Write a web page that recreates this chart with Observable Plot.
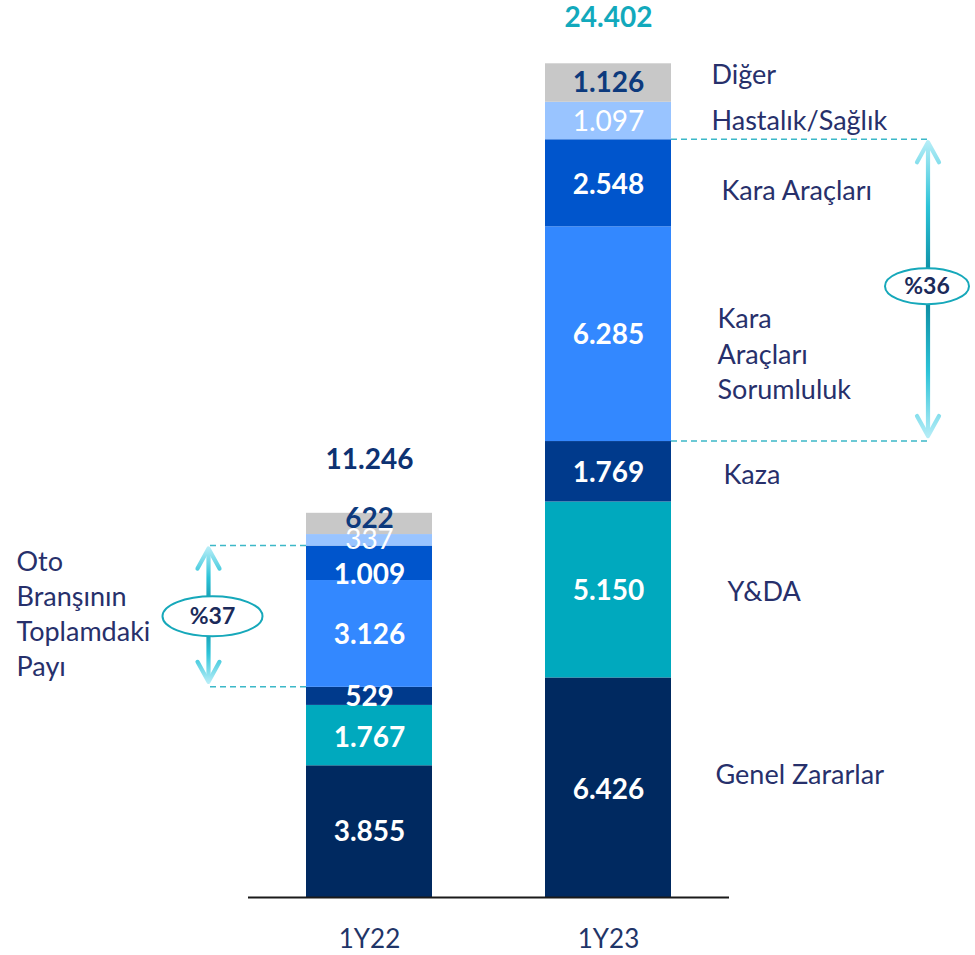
<!DOCTYPE html>
<html>
<head>
<meta charset="utf-8">
<script src="https://cdn.jsdelivr.net/npm/d3@7"></script>
<script src="https://cdn.jsdelivr.net/npm/@observablehq/plot@0.6"></script>
<style>
  html, body { margin: 0; padding: 0; background: #fff; }
  svg { display: block; }
</style>
</head>
<body>
<div id="chart"></div>
<script>
// ---------- data ----------
const years = ["1Y22", "1Y23"];
const branches = ["Genel Zararlar", "Y&DA", "Kaza", "Kara Araçları Sorumluluk", "Kara Araçları", "Hastalık/Sağlık", "Diğer"];
const branchLabels = ["Genel Zararlar", "Y&DA", "Kaza", "Kara\nAraçları\nSorumluluk", "Kara Araçları", "Hastalık/Sağlık", "Diğer"];
const values1Y22 = [3855, 1767, 529, 3126, 1009, 337, 622];
const values1Y23 = [6426, 5150, 1769, 6285, 2548, 1097, 1126];
const totals = [11246, 24402];
const autoShares = ["%37", "%36"];
const shareLabel = "Oto\nBranşının\nToplamdaki\nPayı";
const colors = ["#002960", "#00A9BE", "#003A8C", "#3388FF", "#0055CC", "#99C4FF", "#C8C8C8"];

// ---------- derived table ----------
const fmt = d3.formatLocale({decimal: ",", thousands: ".", grouping: [3], currency: ["", ""]}).format(",");
const seriesByYear = {"1Y22": values1Y22, "1Y23": values1Y23};
const rows = [];
for (const year of years) {
  let acc = 0;
  seriesByYear[year].forEach((v, i) => {
    rows.push({year, branch: branches[i], label: branchLabels[i], value: v, y1: acc, y2: acc + v, i});
    acc += v;
  });
}
const stackTop = year => d3.sum(seriesByYear[year]);

// styling / small label nudges (pixels)
const NAVY_TXT = "#27306B";
const FONT = "Lato, 'Open Sans', sans-serif";
const valueNudge = {"1Y22": [0, 2, 1, 1, 12, 0, -5], "1Y23": [2, 1, 1, 1, 2, 1, 0]};
const catDx = [44, 56, 52, 46, 50, 40, 40];
const catDy = [-15, 0, 1, 18, 5, -2, -10];
const totalDy = [-53, -46];
const totalFill = ["#0D3272", "#12A9BC"];

const valueMarks = rows.map(r => Plot.text([r], {
  x: "year",
  y: d => (d.y1 + d.y2) / 2,
  text: d => fmt(d.value),
  dy: valueNudge[r.year][r.i],
  fill: r.i === 6 ? "#0D3A7D" : "#ffffff",
  fontWeight: r.i === 5 ? "normal" : "bold",
  fontSize: 28
}));

const catRows = rows.filter(r => r.year === "1Y23");
const catMarks = catRows.map(r => Plot.text([r], {
  x: "year",
  y: d => (d.y1 + d.y2) / 2,
  text: "label",
  textAnchor: "start",
  dx: 63 + catDx[r.i],
  dy: catDy[r.i],
  lineHeight: 1.31,
  fill: NAVY_TXT,
  fontSize: 27
}));

const totalMarks = years.map((yr, j) => Plot.text([yr], {
  x: d => d,
  y: d => stackTop(d),
  text: () => fmt(totals[j]),
  dy: totalDy[j],
  fill: totalFill[j],
  fontWeight: "bold",
  fontSize: 28
}));

const plot = Plot.plot({
  width: 975,
  height: 955,
  marginLeft: 248,
  marginRight: 246,
  marginTop: 0,
  marginBottom: 58,
  x: {domain: years, range: [185.7, 791.9], paddingInner: 0.474, paddingOuter: 0.5, axis: null},
  y: {domain: [0, stackTop("1Y23")], range: [897, 63.3], axis: null},
  color: {domain: branches, range: colors},
  style: {fontFamily: FONT, background: "#ffffff", overflow: "visible"},
  marks: [
    Plot.barY(rows, {x: "year", y1: "y1", y2: "y2", fill: "branch"}),
    Plot.ruleY([0], {stroke: "#1a1a1a", strokeWidth: 2}),
    ...valueMarks,
    ...catMarks,
    ...totalMarks,
    Plot.text(years, {x: d => d, y: 0, dy: 42, text: d => d, fill: "#1F3568", fontSize: 26})
  ]
});

document.getElementById("chart").append(plot);

// ---------- annotations (auto-branch share brackets) ----------
const xs = plot.scale("x"), ys = plot.scale("y");
const X = v => xs.apply(v), Y = v => ys.apply(v), bw = xs.bandwidth;
const svg = d3.select(plot);
const defs = svg.append("defs");
const ann = svg.append("g").attr("font-family", FONT).attr("text-anchor", "start");

function gradient(id, yTop, yBot) {
  const g = defs.append("linearGradient").attr("id", id)
    .attr("gradientUnits", "userSpaceOnUse")
    .attr("x1", 0).attr("x2", 0).attr("y1", yTop).attr("y2", yBot);
  [[0, "#B5EDF7"], [0.22, "#2CC3D8"], [0.45, "#0E8EA4"], [0.55, "#0E8EA4"], [0.78, "#2CC3D8"], [1, "#B5EDF7"]]
    .forEach(([o, c]) => g.append("stop").attr("offset", o).attr("stop-color", c));
}

function bracket(id, year, side, offset, ellRx, ellRy, ellDx, ellDy, share) {
  const vals = seriesByYear[year];
  const lo = d3.sum(vals.slice(0, 3));   // below Kara Araçları Sorumluluk
  const hi = d3.sum(vals.slice(0, 5));   // top of Kara Araçları
  const yTop = Y(hi), yBot = Y(lo);
  const edge = side === "left" ? X(year) : X(year) + bw;
  const ax = side === "left" ? edge - offset : edge + offset;
  for (const yy of [yTop, yBot]) {
    ann.append("line")
      .attr("x1", edge).attr("x2", ax + (side === "left" ? 0 : 1))
      .attr("y1", yy).attr("y2", yy)
      .attr("stroke", "#3CB8C8").attr("stroke-width", 1.5)
      .attr("stroke-dasharray", "6,4");
  }
  const tTop = yTop + 2, tBot = yBot - 4;
  gradient(id, tTop, tBot);
  const stroke = `url(#${id})`;
  ann.append("line").attr("x1", ax).attr("x2", ax).attr("y1", tTop + 2).attr("y2", tBot - 2)
    .attr("stroke", stroke).attr("stroke-width", 4.2);
  ann.append("polyline")
    .attr("points", `${ax - 11},${tTop + 21} ${ax},${tTop + 1} ${ax + 11},${tTop + 21}`)
    .attr("fill", "none").attr("stroke", stroke).attr("stroke-width", 4.2)
    .attr("stroke-linecap", "round").attr("stroke-linejoin", "round");
  ann.append("polyline")
    .attr("points", `${ax - 11},${tBot - 21} ${ax},${tBot - 1} ${ax + 11},${tBot - 21}`)
    .attr("fill", "none").attr("stroke", stroke).attr("stroke-width", 4.2)
    .attr("stroke-linecap", "round").attr("stroke-linejoin", "round");
  const cx = ax + ellDx, cy = (yTop + yBot) / 2 + ellDy;
  ann.append("ellipse").attr("cx", cx).attr("cy", cy).attr("rx", ellRx).attr("ry", ellRy)
    .attr("fill", "#ffffff").attr("stroke", "#16A8BA").attr("stroke-width", 2);
  ann.append("text").attr("x", cx).attr("y", cy).attr("dy", "0.35em")
    .attr("text-anchor", "middle").attr("font-weight", "bold").attr("font-size", 23)
    .attr("fill", "#1B2A5A").text(share);
  return {ax, cy, yTop, yBot};
}

const left = bracket("gradL", "1Y22", "left", 97.5, 50, 20, 4, 0, autoShares[0]);
bracket("gradR", "1Y23", "right", 257, 42, 18, -1, -4, autoShares[1]);

// left description text
const lines = shareLabel.split("\n");
const lh = 35;
const t = ann.append("text").attr("fill", NAVY_TXT).attr("font-size", 27).attr("text-anchor", "start");
lines.forEach((ln, k) => {
  t.append("tspan").attr("x", left.ax - 192)
    .attr("y", left.cy - 2 + (k - (lines.length - 1) / 2) * lh)
    .attr("dy", "0.35em").text(ln);
});
</script>
</body>
</html>
